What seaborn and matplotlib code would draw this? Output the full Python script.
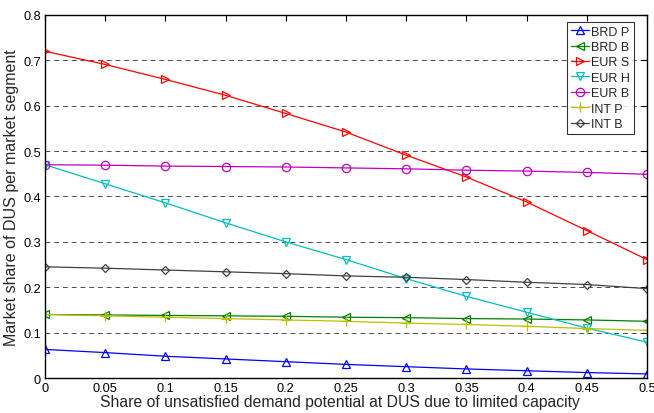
import numpy as np
import pandas as pd
import matplotlib
matplotlib.use('Agg')
import matplotlib.pyplot as plt
from matplotlib.ticker import FormatStrFormatter
import seaborn as sns

# shares of unsatisfied demand (x axis)
x = [0, 0.05, 0.1, 0.15, 0.2, 0.25, 0.3, 0.35, 0.4, 0.45, 0.5]

brd_p = [0.063, 0.056, 0.048, 0.042, 0.036, 0.030, 0.025, 0.020, 0.016, 0.012, 0.009]
brd_b = [0.140, 0.139, 0.138, 0.137, 0.136, 0.134, 0.133, 0.131, 0.130, 0.128, 0.125]
eur_s = [0.720, 0.691, 0.658, 0.623, 0.583, 0.542, 0.491, 0.443, 0.388, 0.325, 0.261]
eur_h = [0.470, 0.428, 0.386, 0.342, 0.300, 0.261, 0.219, 0.180, 0.145, 0.110, 0.079]
eur_b = [0.470, 0.469, 0.467, 0.466, 0.465, 0.463, 0.461, 0.458, 0.456, 0.453, 0.449]
int_p = [0.140, 0.137, 0.134, 0.131, 0.128, 0.125, 0.121, 0.118, 0.114, 0.109, 0.105]
int_b = [0.245, 0.242, 0.238, 0.234, 0.230, 0.225, 0.222, 0.217, 0.211, 0.206, 0.197]

names = ['BRD P', 'BRD B', 'EUR S', 'EUR H', 'EUR B', 'INT P', 'INT B']
series = [brd_p, brd_b, eur_s, eur_h, eur_b, int_p, int_b]
colors = ['#0000ff', '#008000', '#ff0000', '#00bfbf', '#bf00bf', '#bfbf00', '#404040']
markers = ['^', '<', '>', 'v', 'o', '+', 'D']
msizes = [6, 6, 6, 6, 6, 7, 4.5]

sns.set_style('white')
plt.rcParams['font.family'] = ['Liberation Sans', 'DejaVu Sans']

fig = plt.figure(figsize=(6.54, 4.14), dpi=100)
ax = fig.add_axes([0.0688, 0.0845, 0.9205, 0.8769])

for name, vals, c, m, ms in zip(names, series, colors, markers, msizes):
    sns.lineplot(x=x, y=vals, ax=ax, color=c, marker=m, markersize=ms,
                 markerfacecolor='none', markeredgecolor=c, markeredgewidth=0.9,
                 linewidth=0.9, label=name)

ax.set_xlim(0, 0.5)
ax.set_ylim(0, 0.8)
ax.set_xticks(np.arange(0, 0.501, 0.05))
ax.set_yticks(np.arange(0, 0.801, 0.1))
ax.xaxis.set_major_formatter(FormatStrFormatter('%g'))
ax.yaxis.set_major_formatter(FormatStrFormatter('%g'))
ax.tick_params(direction='in', length=4, width=0.8, top=True, right=True,
               labelsize=9.2, colors='black', pad=3)
for sp in ax.spines.values():
    sp.set_color('black')
    sp.set_linewidth(1.0)
ax.yaxis.grid(True, linestyle=(0, (5, 4)), color='black', linewidth=0.7, alpha=0.7)
ax.set_axisbelow(True)

ax.set_xlabel('Share of unsatisfied demand potential at DUS due to limited capacity',
              fontsize=11.3, labelpad=0)
ax.xaxis.label.set_x(0.49)
ax.set_ylabel('Market share of DUS per market segment', fontsize=11.5, labelpad=3)

leg = ax.legend(loc='upper right', bbox_to_anchor=(0.978, 0.981), borderaxespad=0,
                fontsize=9, frameon=True, fancybox=False, handlelength=1.4,
                handletextpad=0.2, labelspacing=0.27, borderpad=0.3)
leg.get_frame().set_edgecolor('black')
leg.get_frame().set_linewidth(0.8)

fig.savefig('out.png', dpi=100)
